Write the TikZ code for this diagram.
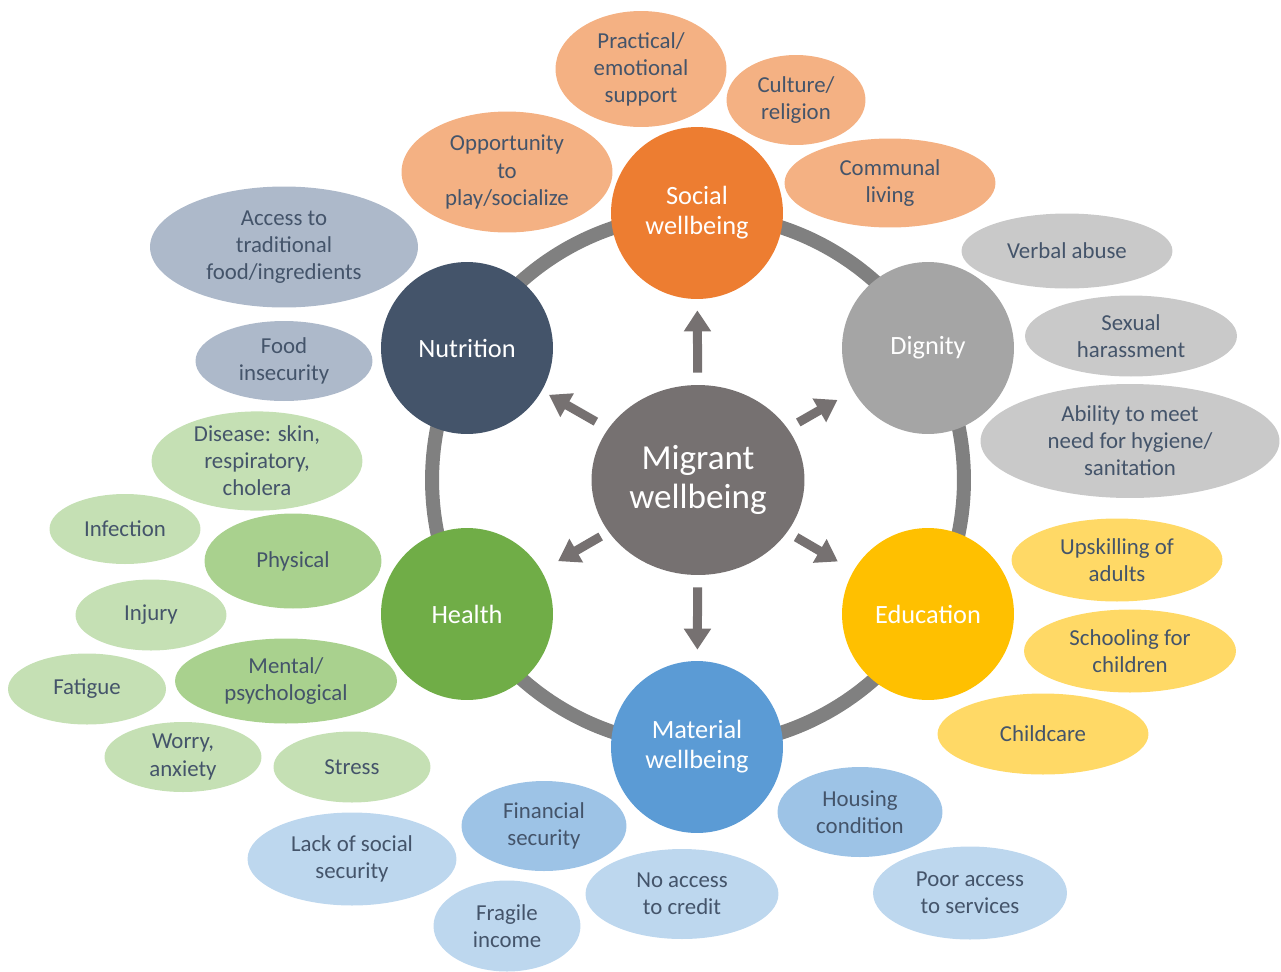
\documentclass[tikz,border=0pt]{standalone}
\usepackage{fontspec}
\setmainfont{Carlito}
\usetikzlibrary{arrows.meta, shapes.geometric}

\definecolor{ringgray}{HTML}{808080}
\definecolor{hubgray}{HTML}{767171}
\definecolor{txtblue}{HTML}{44546A}
\definecolor{socdark}{HTML}{ED7D31}
\definecolor{soclight}{HTML}{F4B183}
\definecolor{nutdark}{HTML}{44546A}
\definecolor{nutlight}{HTML}{ADB9CA}
\definecolor{digdark}{HTML}{A5A5A5}
\definecolor{diglight}{HTML}{C9C9C9}
\definecolor{edudark}{HTML}{FFC000}
\definecolor{edulight}{HTML}{FFD966}
\definecolor{headark}{HTML}{70AD47}
\definecolor{healight}{HTML}{A9D18E}
\definecolor{healighter}{HTML}{C5E0B4}
\definecolor{matdark}{HTML}{5B9BD5}
\definecolor{matlight}{HTML}{9DC3E6}
\definecolor{matlighter}{HTML}{BDD7EE}

\begin{document}
\begin{tikzpicture}[
		x=0.02cm, y=-0.02cm,
		every node/.style={align=center, inner sep=0pt},
		bubble/.style n args={3}{ellipse, fill=#1, text=txtblue, minimum width=#2*0.2mm, minimum height=#3*0.2mm, font=\fontsize{13}{15.4}\selectfont},
		pillar/.style={circle, fill=#1, text=white, minimum size=34.4mm, font=\fontsize{15}{17}\selectfont},
		arrow/.style={-{Triangle[width=5.2mm, length=4.2mm]}, line width=1.8mm, hubgray},
		ring/.style={line width=2.8mm, ringgray}
	]
	\useasboundingbox (0,0) rectangle (1281,971);
	
		% Ring
		\coordinate (hub) at (698,480);
		\draw[ring] (hub) circle [radius=5.32cm];
		
		% Pillars
		\node[pillar=socdark] (social) at (697,213) {Social\\wellbeing};
		\node[pillar=nutdark] (nutrition) at (467,348) {Nutrition};
		\node[pillar=digdark] (dignity) at (928,348) {Dignity};
		\node[pillar=headark] (health) at (467,614) {Health};
		\node[pillar=edudark] (education) at (928,614) {Education};
		\node[pillar=matdark] (material) at (697,747) {Material\\wellbeing};
		\node[ellipse, fill=hubgray, text=white, minimum width=42.6mm, minimum height=38mm, font=\fontsize{20}{22}\selectfont] (migrant) at (hub) {Migrant\\wellbeing};
		
		% Arrows
		\draw[arrow, shorten <=2.4mm, shorten >=2.2mm] (migrant) -- (social);
		\draw[arrow, shorten <=2.4mm, shorten >=2.2mm] (migrant) -- (material);
		\draw[arrow, shorten <=2.8mm, shorten >=1.6mm] (migrant) -- (nutrition);
		\draw[arrow, shorten <=2.4mm, shorten >=3.6mm] (migrant) -- (dignity);
		\draw[arrow, shorten <=1.8mm, shorten >=3.8mm] (migrant) -- (health);
		\draw[arrow, shorten <=2mm, shorten >=3.6mm] (migrant) -- (education);
		
		% Social wellbeing
		\node[bubble={soclight}{171}{116}] (practical) at (641,69) {Practical/\\emotional\\support};
		\node[bubble={soclight}{139}{90}] (culture) at (796,100) {Culture/\\religion};
		\node[bubble={soclight}{211}{121}] (opportunity) at (507,172) {Opportunity\\to\\play/socialize};
		\node[bubble={soclight}{211}{89}] (communal) at (890,183) {Communal\\living};
		
		% Nutrition
		\node[bubble={nutlight}{268}{121}] (access) at (284,247) {Access to\\traditional\\food/ingredients};
		\node[bubble={nutlight}{177}{80}] (foodins) at (284,361) {Food\\insecurity};
		
		% Dignity
		\node[bubble={diglight}{211}{75}] (verbal) at (1067,251) {Verbal abuse};
		\node[bubble={diglight}{212}{81}] (sexual) at (1131,336) {Sexual\\harassment};
		\node[bubble={diglight}{299}{114}] (hygiene) at (1130,441) {Ability to meet\\need for hygiene/\\sanitation};
		
		% Education
		\node[bubble={edulight}{211}{83}] (upskilling) at (1117,560) {Upskilling of\\adults};
		\node[bubble={edulight}{212}{83}] (schooling) at (1130,651) {Schooling for\\children};
		\node[bubble={edulight}{211}{81}] (childcare) at (1043,734) {Childcare};
		
		% Health
		\node[bubble={healighter}{211}{94}] (disease) at (257,461) {Disease: skin,\\respiratory,\\cholera};
		\node[bubble={healighter}{151}{70}] (infection) at (125,529) {Infection};
		\node[bubble={healight}{177}{95}] (physical) at (293,561) {Physical};
		\node[bubble={healighter}{151}{71}] (injury) at (151,615) {Injury};
		\node[bubble={healight}{222}{85}] (mental) at (286,681) {Mental/\\psychological};
		\node[bubble={healighter}{158}{71}] (fatigue) at (87,689) {Fatigue};
		\node[bubble={healighter}{157}{70}] (worry) at (183,757) {Worry,\\anxiety};
		\node[bubble={healighter}{157}{71}] (stress) at (352,767) {Stress};
		
		% Material wellbeing
		\node[bubble={matlight}{165}{90}] (financial) at (544,826) {Financial\\security};
		\node[bubble={matlighter}{209}{93}] (lacksocial) at (352,859) {Lack of social\\security};
		\node[bubble={matlighter}{147}{91}] (fragile) at (507,926) {Fragile\\income};
		\node[bubble={matlighter}{193}{90}] (credit) at (682,894) {No access\\to credit};
		\node[bubble={matlight}{165}{90}] (housing) at (860,812) {Housing\\condition};
		\node[bubble={matlighter}{194}{93}] (services) at (970,893) {Poor access\\to services};
		
	\end{tikzpicture}
\end{document}
